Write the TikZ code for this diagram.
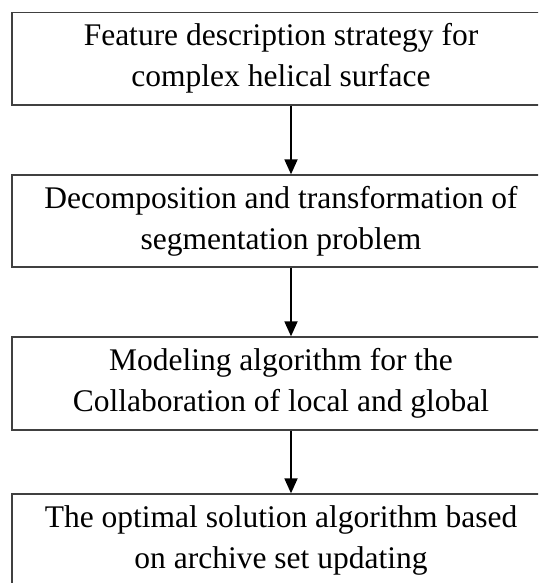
\documentclass[tikz,border=0pt]{standalone}
\usepackage{fontspec}
\setmainfont{Liberation Serif}
\usetikzlibrary{arrows.meta}
\begin{document}
\begin{tikzpicture}[x=1pt,y=1pt,
  stepbox/.style={draw=black!75, line width=1.3pt, minimum width=538pt, align=center,
    inner sep=0pt, font=\fontsize{31.5}{41}\selectfont},
  flowarrow/.style={draw=black, line width=1.8pt, -{Triangle[length=15pt,width=13pt]}}]
\useasboundingbox (0,0) rectangle (538,-583);
\clip (0,0) rectangle (538,-583);
\node[stepbox, minimum height=92.5pt] (b1) at (281,-58.75) {Feature description strategy for\\complex helical surface};
\node[stepbox, minimum height=92pt] (b2) at (281,-221) {Decomposition and transformation of\\segmentation problem};
\node[stepbox, minimum height=93pt] (b3) at (281,-383.5) {Modeling algorithm for the\\Collaboration of local and global};
\node[stepbox, minimum height=93pt] (b4) at (281,-540.5) {The optimal solution algorithm based\\on archive set updating};
\draw[flowarrow] ([xshift=10pt]b1.south) -- ([xshift=10pt]b2.north);
\draw[flowarrow] ([xshift=10pt]b2.south) -- ([xshift=10pt]b3.north);
\draw[flowarrow] ([xshift=10pt]b3.south) -- ([xshift=10pt]b4.north);
\end{tikzpicture}
\end{document}
